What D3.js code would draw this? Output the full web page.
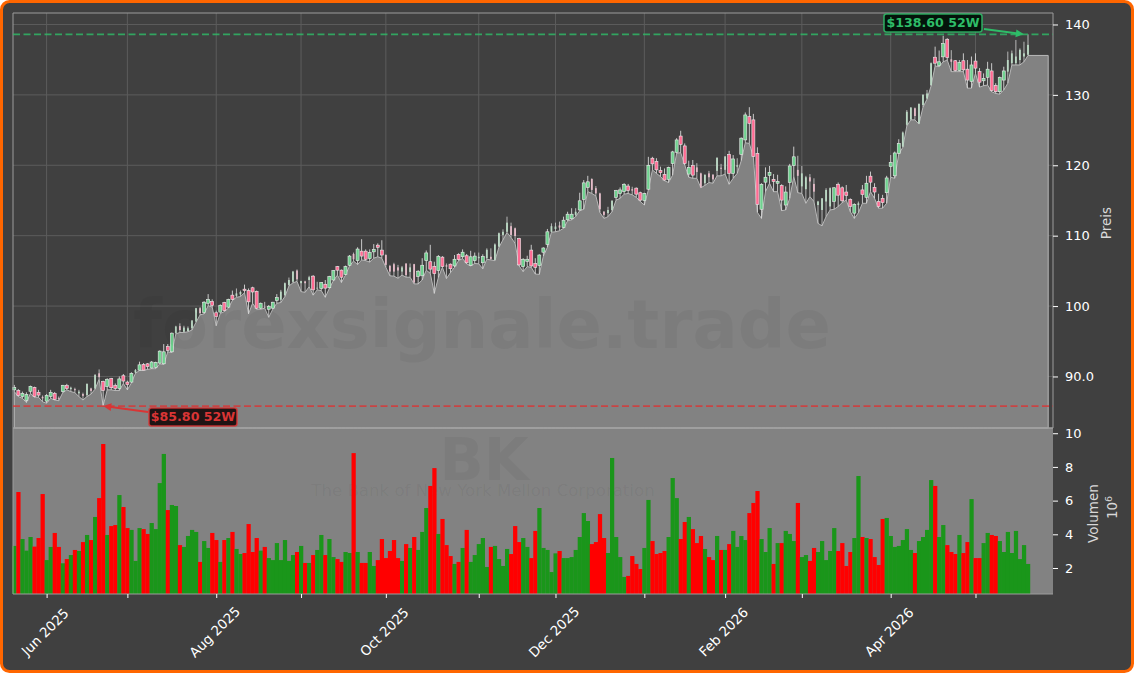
<!DOCTYPE html>
<html>
<head>
<meta charset="utf-8">
<script src="https://cdnjs.cloudflare.com/ajax/libs/d3/7.8.5/d3.min.js"></script>
<style>
	html, body { margin: 0; padding: 0; background: #fff; }
	svg { display: block; }
	text { font-family: "DejaVu Sans", sans-serif; }
</style>
</head>
<body>
<svg id="chart" width="1134" height="673"></svg>
<script>
var opens = [
	88.1,88.0,87.15,86.6,87.9,88.45,87.75,87.1,86.5,87.15,
	87.6,86.9,87.85,88.7,88.2,88.2,87.6,87.5,87.35,88.3,
	88.3,90.45,89.3,88.55,89.7,88.7,88.3,90.1,89.2,89.2,
	90.55,90.9,91.7,91.8,91.2,91.3,91.9,91.8,94.25,93.5,
	96.15,97.15,96.35,96.45,96.85,97.8,99.7,99.1,100.4,100.65,
	99.05,99.15,100.5,99.85,101.55,101.45,101.65,102.4,102.2,102.6,
	102.1,99.7,99.9,99.55,99.7,100.8,100.9,101.55,103.0,103.45,
	105.05,103.25,103.5,103.7,104.25,102.5,102.5,103.1,102.6,103.7,
	105.6,105.1,104.5,105.8,107.4,106.45,107.8,107.8,106.75,107.7,
	108.65,107.95,107.25,105.7,105.95,105.5,104.9,106.05,104.85,105.95,
	104.2,104.3,106.45,106.3,105.65,105.05,106.95,105.8,105.95,105.7,
	107.35,107.0,107.15,105.8,106.45,106.8,106.15,106.8,107.0,106.55,
	108.45,110.1,110.55,111.35,111.05,109.6,105.6,106.35,107.95,106.05,
	105.75,107.65,108.75,110.55,110.95,111.45,111.15,112.25,112.4,112.95,
	113.65,115.15,116.85,118.05,116.75,116.0,113.4,113.2,113.65,115.45,
	116.0,116.25,117.05,116.6,116.75,116.1,115.0,116.6,121.0,120.55,
	119.25,118.7,118.0,120.25,121.85,124.15,122.75,118.75,119.95,119.7,
	118.85,117.45,118.85,118.65,119.2,119.65,119.35,121.55,118.85,119.8,
	121.55,123.6,126.9,126.45,121.7,113.75,117.6,118.55,118.0,117.45,
	117.1,114.35,117.55,119.95,119.35,117.0,116.6,118.3,117.35,114.35,
	113.65,114.85,114.15,114.85,117.3,116.8,116.2,115.15,113.2,114.35,
	116.5,115.45,118.45,116.85,114.85,115.3,116.1,119.8,118.5,121.7,
	122.65,125.75,126.5,128.1,125.95,128.55,129.5,131.4,135.35,134.15,
	135.4,137.9,135.05,134.85,133.45,134.85,133.65,131.9,134.8,133.3,
	132.0,132.5,133.4,131.35,130.45,132.1,133.3,134.5,134.5,134.95,135.45,135.7
];
var closes = [
	88.45,87.3,87.6,87.45,88.6,87.15,87.35,86.9,87.3,87.75,
	86.75,86.8,88.75,88.3,88.4,88.05,87.85,87.25,88.95,87.95,
	90.2,89.9,88.0,89.6,88.4,88.3,89.65,89.35,88.85,90.45,
	90.9,91.65,90.9,91.4,92.05,92.0,93.6,93.5,93.7,96.15,
	97.1,96.6,96.95,96.85,97.95,99.7,99.0,100.55,100.95,100.1,
	98.5,100.1,99.35,100.95,100.95,101.8,102.0,102.2,100.6,102.0,
	99.7,100.4,99.8,99.95,100.55,101.2,102.05,103.25,103.7,104.9,
	103.8,103.55,103.25,104.1,102.3,102.6,103.35,102.55,104.2,105.05,
	105.1,104.1,105.6,107.1,106.65,108.1,107.1,106.65,107.6,108.05,
	108.35,107.25,105.85,104.9,104.9,105.05,105.5,104.4,105.5,103.35,
	104.95,105.8,107.55,105.25,104.6,107.05,105.6,105.6,105.3,106.65,
	106.6,107.65,106.15,107.0,107.1,107.0,107.05,108.0,106.7,108.75,
	110.35,110.55,111.85,110.1,109.95,105.85,106.65,106.65,105.7,105.5,
	107.25,108.25,110.55,111.35,111.3,111.15,112.2,113.05,113.05,113.4,
	114.95,117.5,117.65,116.5,116.0,113.75,112.95,113.65,114.95,116.4,
	116.5,117.3,116.4,116.4,115.9,115.05,116.0,120.0,120.2,119.35,
	118.95,117.9,119.7,121.9,123.6,122.95,120.25,119.7,118.6,119.05,
	116.85,118.65,118.3,118.0,121.05,119.5,121.25,118.85,120.9,120.0,
	123.85,127.15,125.95,121.25,114.45,117.3,118.3,119.0,117.7,117.7,
	115.05,116.2,119.9,121.2,118.5,118.85,118.3,117.7,116.25,114.85,
	115.3,116.5,116.75,116.8,115.75,114.95,115.7,114.15,114.45,114.6,
	115.85,117.45,117.6,116.2,114.15,114.7,118.2,120.4,121.75,123.1,
	124.65,127.6,128.2,127.0,128.7,130.0,130.2,134.5,134.5,134.7,
	137.3,135.3,134.7,133.45,134.6,133.55,132.1,134.25,133.8,131.8,
	132.35,133.65,130.6,130.45,132.45,133.4,134.95,135.9,135.45,136.4,135.9,137.1
];
var highs = [
	88.8,88.2,87.85,87.75,88.7,88.55,88.1,87.3,87.5,88.1,
	87.8,87.15,88.8,88.95,88.55,88.4,88.1,87.7,89.0,88.4,
	90.35,91.0,89.4,89.75,89.8,89.0,90.0,90.35,89.4,90.6,
	91.05,92.1,91.9,91.9,92.2,92.1,93.7,94.6,94.6,96.25,
	97.2,97.55,97.2,97.1,98.0,99.75,99.85,100.7,101.7,100.95,
	99.35,100.25,100.6,101.05,102.2,102.5,102.2,103.05,102.5,102.75,
	102.2,100.5,100.6,100.15,100.6,101.7,102.3,103.35,104.05,105.0,
	105.2,103.6,103.6,104.3,104.4,103.45,103.4,103.7,104.3,105.1,
	105.7,105.2,105.75,107.25,107.6,108.35,109.5,108.05,108.05,108.8,
	108.9,109.35,107.35,105.85,106.15,105.85,105.7,106.05,106.05,106.0,
	105.1,106.8,107.9,108.7,106.3,107.25,107.1,106.05,106.05,107.25,
	107.5,108.05,107.4,107.85,107.6,107.6,107.35,108.2,108.2,108.9,
	110.45,110.9,112.7,111.85,111.15,109.7,106.8,107.15,108.7,106.8,
	107.35,108.35,110.95,111.75,111.85,112.0,112.7,113.4,113.9,113.9,
	116.1,117.9,118.5,118.15,117.05,116.1,113.5,114.1,115.05,116.5,
	116.85,117.45,117.35,116.95,116.85,116.25,116.1,121.2,121.2,121.0,
	119.8,119.55,119.8,122.05,123.85,124.9,123.1,120.65,120.75,120.3,
	118.95,118.7,119.2,118.75,121.15,120.2,121.3,122.05,121.45,121.0,
	123.95,127.5,128.25,127.3,122.55,117.45,119.7,119.9,118.75,118.65,
	117.3,117.0,120.2,122.65,121.35,119.9,118.5,118.75,118.15,114.95,
	115.35,116.75,116.85,116.9,117.55,117.0,117.2,115.3,114.6,114.85,
	117.2,118.5,119.1,117.45,115.95,115.8,118.5,121.45,121.95,123.7,
	124.8,127.85,128.25,128.2,128.8,130.1,130.7,134.6,136.85,136.3,
	138.4,138.05,136.35,134.95,134.95,135.9,134.95,135.45,135.9,133.8,
	133.05,134.7,134.5,131.65,132.6,134.0,136.15,136.3,137.8,136.6,137.55,138.6
];
var lows = [
	87.85,87.15,86.9,86.3,87.6,87.05,87.05,86.4,86.2,86.9,
	86.65,86.55,87.7,88.1,87.85,87.7,87.15,86.65,87.15,87.5,
	88.2,89.6,85.8,88.1,88.1,88.0,88.0,89.0,88.1,89.1,
	90.45,90.85,90.85,91.0,91.1,91.1,91.8,91.7,93.5,93.4,
	96.05,96.25,96.25,96.35,96.6,97.7,98.75,98.9,100.05,99.85,
	97.2,98.95,99.2,99.7,100.8,101.25,101.35,101.9,98.9,100.4,
	99.55,99.55,99.7,98.4,99.55,100.4,100.5,101.35,102.85,103.3,
	103.5,102.05,101.95,102.75,101.55,102.3,102.2,101.25,102.5,103.6,
	104.4,103.35,104.4,105.7,106.4,105.9,106.55,106.45,106.25,106.8,
	107.0,106.8,105.5,104.3,104.25,103.95,104.4,104.1,104.1,103.15,
	103.15,103.7,105.1,104.65,101.8,104.05,105.5,103.9,104.75,105.5,
	106.45,106.75,106.0,105.7,106.05,106.0,105.3,106.65,106.55,106.45,
	108.35,109.4,110.45,109.75,108.9,105.7,104.9,105.6,105.5,104.55,
	104.5,107.1,108.35,110.5,110.55,110.7,111.05,112.1,112.25,112.7,
	113.55,113.75,116.25,116.0,115.65,113.3,112.45,112.7,113.4,115.05,
	115.3,115.9,116.0,115.8,115.45,114.85,114.35,116.5,119.35,118.85,
	118.4,117.8,117.55,118.6,121.7,121.8,120.05,118.3,118.15,118.15,
	116.8,117.15,117.55,117.45,118.5,118.5,118.75,117.3,118.15,118.85,
	120.65,123.2,123.1,121.15,113.3,112.45,116.25,117.45,116.25,116.25,
	113.55,113.65,115.3,118.4,116.1,116.0,114.6,115.55,114.85,111.75,
	111.4,112.7,113.65,113.75,114.15,114.7,115.05,113.4,112.45,113.25,
	114.6,114.6,116.25,115.3,113.9,113.9,114.6,118.3,118.15,121.6,
	122.55,125.6,126.45,126.45,125.85,128.25,129.4,131.25,134.1,134.0,
	134.7,134.95,133.3,133.3,133.3,133.3,130.95,130.95,133.05,131.1,
	131.3,131.4,130.45,130.2,130.1,130.7,131.65,134.25,134.25,134.25,134.7,135.6
];
// volume in millions
var volumes = [
	3.31,6.51,3.72,3.03,3.84,3.27,3.78,6.39,2.47,3.25,
	4.08,3.25,2.28,2.53,2.77,3.07,3.01,3.54,3.96,3.66,
	5.03,6.15,9.36,3.96,4.49,4.55,6.33,5.62,4.37,4.26,
	2.42,4.37,4.31,4.02,4.67,4.31,7.04,8.77,5.44,5.74,
	5.68,3.36,3.25,3.90,4.26,4.14,2.36,3.60,3.19,4.08,
	3.66,2.36,3.66,3.78,4.14,3.13,2.83,2.89,4.61,2.95,
	3.78,3.03,3.25,2.59,2.47,3.48,2.47,3.66,2.42,2.77,
	2.95,3.31,2.30,2.30,2.77,3.07,3.96,2.77,3.72,2.65,
	2.53,2.36,2.95,2.89,8.82,2.95,2.30,2.30,2.95,2.12,
	2.47,3.72,2.59,3.01,3.66,2.59,2.42,3.42,3.19,3.84,
	3.07,4.14,5.56,6.87,7.93,4.02,4.91,3.36,2.71,2.24,
	2.36,3.19,4.26,2.36,2.77,3.42,3.78,2.06,3.25,3.31,
	2.53,2.12,3.13,2.83,4.49,3.54,3.78,3.25,2.59,4.20,
	5.56,3.19,3.07,1.76,2.87,3.01,2.59,2.59,2.65,3.07,
	3.84,5.26,4.79,3.42,3.54,5.20,3.78,2.89,8.53,3.84,
	2.65,1.47,1.53,2.71,2.24,1.94,3.19,6.04,3.60,2.83,
	2.89,3.01,3.84,7.34,6.15,3.72,4.73,5.03,4.31,3.48,
	3.90,3.13,2.65,2.47,3.90,3.07,3.07,3.42,4.20,3.25,
	3.90,3.66,5.26,5.86,6.57,3.72,2.95,4.37,2.24,3.48,
	3.48,4.20,4.02,3.60,5.86,2.65,2.77,2.42,3.19,2.95,
	3.60,2.47,3.01,4.37,3.01,3.48,2.12,2.95,3.78,7.46,
	3.84,3.78,3.72,2.65,2.18,4.91,4.97,3.90,3.25,3.31,
	3.66,4.31,3.07,2.89,3.60,3.84,4.26,7.22,6.87,3.84,
	4.55,3.36,2.95,2.83,3.96,2.89,3.54,6.09,2.59,2.59,
	3.48,4.08,3.96,3.90,3.60,2.95,4.14,2.89,4.20,2.53,
	3.36,2.24
];
// bars whose candle comes out thin and washed out
var fadedBars = [7,11,14,15,16,17,18,19,20,21,30,40,41,42,43,44,45,46,55,56,62,66,67,68,69,70,71,72,73,75,84,
	92,93,94,95,96,97,98,99,107,115,117,118,119,120,121,122,123,124,133,134,135,139,143,144,145,146,147,148,153,
	169,170,171,172,173,174,175,176,179,194,195,196,197,198,199,200,201,202,209,220,221,222,223,224,225,226,227,
	232,246,247,248,249,250,251];

var monthBars = [8,28,50,71,92,115,134,156,176,195,217,238];
var monthLabels = ["Jun 2025","","Aug 2025","","Oct 2025","","Dec 2025","","Feb 2026","","Apr 2026",""];
var priceTicks = [90,100,110,120,130,140];
var priceTickLabels = ["90.0","100","110","120","130","140"];
var volumeTicks = [2,4,6,8,10];
var yearLow = 85.8;
var yearHigh = 138.6;
var lastAreaBar = 256;

var svg = d3.select("#chart");

var left = 13, right = 1053, top_ = 13, split = 428, bottom = 594;

var x = d3.scaleLinear().domain([0, 251]).range([14.3, 1028]);
var y = d3.scaleLinear().domain([82.68, 141.63]).range([split, top_]);
var yVol = d3.scaleLinear().domain([0.457, 10.31]).range([bottom, split]);

var UP_VOL = "#1a961a", DOWN_VOL = "#ff0000";
var UP_BODY = "#6fd28f", DOWN_BODY = "#ff6a92";

svg.append("rect").attr("x", 1.5).attr("y", 1.5).attr("width", 1131).attr("height", 670).attr("rx", 8)
	.attr("fill", "#404040").attr("stroke", "#ff6600").attr("stroke-width", 3);

// grid behind the area
var grid = svg.append("g").attr("stroke", "#5c5c5c").attr("stroke-width", 1);
monthBars.forEach(function(b){
	grid.append("line").attr("x1", x(b)).attr("x2", x(b)).attr("y1", top_).attr("y2", split);
});
priceTicks.forEach(function(p){
	grid.append("line").attr("x1", left).attr("x2", right).attr("y1", y(p)).attr("y2", y(p));
});

// volume panel background
svg.append("rect").attr("x", left).attr("y", split).attr("width", right - left).attr("height", bottom - split).attr("fill", "#828282");

// area under the lows, runs on past the last bar
var areaPoints = lows.map(function(v, i){ return { i: i, v: v }; });
areaPoints.push({ i: lastAreaBar, v: lows[lows.length - 1] });
var priceArea = d3.area()
	.x(function(d){ return x(d.i); })
	.y0(split)
	.y1(function(d){ return y(d.v); });
svg.append("path").datum(areaPoints).attr("d", priceArea)
	.attr("fill", "#828282").attr("stroke", "#b8b8b8").attr("stroke-width", 1);

// candles
var candles = svg.append("g");
lows.forEach(function(low, i){
	var up = closes[i] >= opens[i];
	var faded = fadedBars.indexOf(i) >= 0;
	var yTop = y(Math.max(opens[i], closes[i]));
	var yBot = y(Math.min(opens[i], closes[i]));
	candles.append("line").attr("x1", x(i)).attr("x2", x(i)).attr("y1", y(highs[i])).attr("y2", y(low))
		.attr("stroke", faded ? "#c4c4c4" : "#d8d8d8").attr("stroke-width", 0.9);
	if(faded){
		candles.append("rect").attr("x", x(i) - 0.9).attr("y", yTop).attr("width", 1.8).attr("height", Math.max(yBot - yTop, 0.6))
			.attr("fill", up ? "#bcdac5" : "#e6bcc9");
	}else{
		candles.append("rect").attr("x", x(i) - 1.5).attr("y", yTop).attr("width", 3).attr("height", Math.max(yBot - yTop, 0.6))
			.attr("fill", up ? UP_BODY : DOWN_BODY).attr("stroke", "#ececec").attr("stroke-width", 0.6);
	}
});

// watermarks
svg.append("text").attr("x", 482).attr("y", 348).attr("text-anchor", "middle")
	.attr("font-size", 67).attr("font-weight", "bold").attr("fill", "#000").attr("fill-opacity", 0.045)
	.text("forexsignale.trade");
svg.append("text").attr("x", 484).attr("y", 480).attr("text-anchor", "middle")
	.attr("font-size", 58).attr("font-weight", "bold").attr("fill", "#000").attr("fill-opacity", 0.045)
	.text("BK");
svg.append("text").attr("x", 483).attr("y", 496).attr("text-anchor", "middle")
	.attr("font-size", 16.6).attr("fill", "#000").attr("fill-opacity", 0.05)
	.text("The Bank of New York Mellon Corporation");

// volume bars
var barWidth = x(1) - x(0);
svg.append("g").selectAll("rect").data(volumes).join("rect")
	.attr("x", function(d, i){ return x(i) - barWidth / 2; })
	.attr("width", barWidth + 0.2)
	.attr("y", function(d){ return yVol(d); })
	.attr("height", function(d){ return bottom - yVol(d); })
	.attr("fill", function(d, i){ return closes[i] >= opens[i] ? UP_VOL : DOWN_VOL; });

// spines
var spines = svg.append("g").attr("fill", "none").attr("stroke", "#9c9c9c").attr("stroke-width", 1);
spines.append("path").attr("d", d3.line()([[left, split], [left, top_], [right, top_], [right, split]]));
spines.append("path").attr("d", d3.line()([[left, split], [left, bottom], [right, bottom]]));
spines.append("path").attr("d", d3.line()([[left, split], [right, split]])).attr("stroke", "#a0a0a0").attr("stroke-width", 1.5);

// axes
function styleAxis(g){
	g.select(".domain").remove();
	g.selectAll("line").attr("stroke", "#fff");
	g.selectAll("text").attr("fill", "#fff").attr("font-family", '"DejaVu Sans", sans-serif');
}
svg.append("g").attr("transform", "translate(" + right + ",0)")
	.call(d3.axisRight(y).tickValues(priceTicks).tickSize(5).tickPadding(7)
		.tickFormat(function(d, i){ return priceTickLabels[i]; }))
	.call(styleAxis).selectAll("text").attr("font-size", 13);
svg.append("g").attr("transform", "translate(" + right + ",0)")
	.call(d3.axisRight(yVol).tickValues(volumeTicks).tickSize(5).tickPadding(7).tickFormat(d3.format("d")))
	.call(styleAxis).selectAll("text").attr("font-size", 13);

var xAxis = svg.append("g").attr("transform", "translate(0," + bottom + ")")
	.call(d3.axisBottom(x).tickValues(monthBars).tickSize(4)
		.tickFormat(function(d, i){ return monthLabels[i]; }))
	.call(styleAxis);
xAxis.selectAll("text")
	.attr("font-size", 13.5).attr("text-anchor", "middle").attr("dy", "0.35em").attr("y", 0)
	.attr("transform", "translate(-2,38) rotate(-45)");

// axis titles
svg.append("text").attr("transform", "translate(1111,223) rotate(-90)").attr("text-anchor", "middle")
	.attr("font-size", 13.5).attr("fill", "#d8d8d8").text("Preis");
svg.append("text").attr("transform", "translate(1098,513.5) rotate(-90)").attr("text-anchor", "middle")
	.attr("font-size", 13.5).attr("fill", "#d8d8d8").text("Volumen");
var power = svg.append("text").attr("transform", "translate(1117,507.5) rotate(-90)").attr("text-anchor", "middle")
	.attr("font-size", 13.5).attr("fill", "#d8d8d8");
power.append("tspan").text("10");
power.append("tspan").attr("font-size", 9.5).attr("dy", -5).text("6");

// 52 week lines and flags
function extremeFlag(value, color, boxFill, label, bar, boxX, boxY, boxW, arrowFromX, arrowFromY){
	svg.append("line").attr("x1", left).attr("x2", right).attr("y1", y(value)).attr("y2", y(value))
		.attr("stroke", color).attr("stroke-opacity", 0.8).attr("stroke-width", 1.8).attr("stroke-dasharray", "7,3.5");
	var tipX = x(bar), tipY = y(value);
	var angle = Math.atan2(tipY - arrowFromY, tipX - arrowFromX);
	svg.append("line").attr("x1", arrowFromX).attr("y1", arrowFromY)
		.attr("x2", tipX - 6 * Math.cos(angle)).attr("y2", tipY - 6 * Math.sin(angle))
		.attr("stroke", color).attr("stroke-width", 2);
	svg.append("path")
		.attr("d", d3.line()([
			[tipX, tipY],
			[tipX - 9 * Math.cos(angle - 0.45), tipY - 9 * Math.sin(angle - 0.45)],
			[tipX - 9 * Math.cos(angle + 0.45), tipY - 9 * Math.sin(angle + 0.45)]
		]) + "Z").attr("fill", color);
	svg.append("rect").attr("x", boxX).attr("y", boxY).attr("width", boxW).attr("height", 18).attr("rx", 2.5)
		.attr("fill", boxFill).attr("stroke", color).attr("stroke-opacity", 0.85).attr("stroke-width", 1.6);
	svg.append("text").attr("x", boxX + boxW / 2).attr("y", boxY + 13.3).attr("text-anchor", "middle")
		.attr("font-size", 12.6).attr("font-weight", "bold").attr("fill", color).text(label);
}
extremeFlag(yearLow, "#d93535", "#1f1414", "$85.80 52W", 22, 149, 408, 88, 148, 412);
extremeFlag(yearHigh, "#2ebd68", "#04140b", "$138.60 52W", 250, 884, 14, 98, 984, 29);
</script>
</body>
</html>
